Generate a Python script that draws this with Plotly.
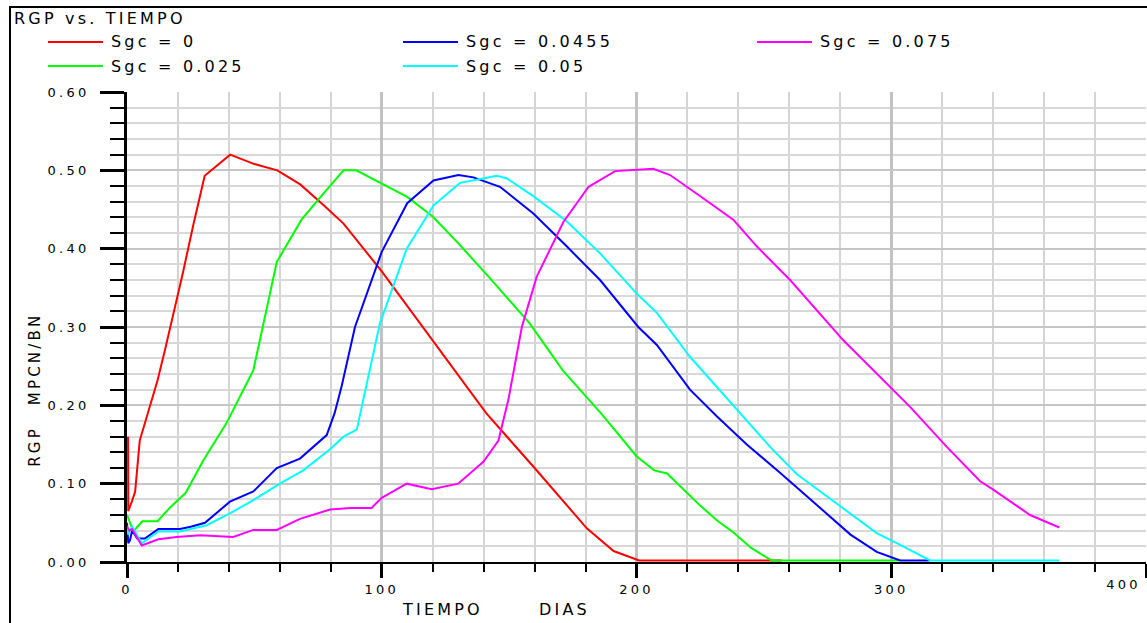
import plotly.graph_objects as go

# ---------------- data ----------------
title_text = "RGP vs. TIEMPO"
x_title_words = ["TIEMPO", "DIAS"]
y_title_words = ["RGP", "MPCN/BN"]

series_names = ["Sgc = 0", "Sgc = 0.025", "Sgc = 0.0455", "Sgc = 0.05", "Sgc = 0.075"]
series_colors = ["#ff0000", "#00ff00", "#0000ff", "#00ffff", "#ff00ff"]

t_sgc_0 = [0.4, 0.5, 2, 3.2, 5, 6.5, 9, 12, 15, 18, 22, 26, 30.5, 40.5, 50, 59, 68, 77,
           85, 100, 115, 130, 141, 160, 180.5, 191, 201, 257]
rgp_sgc_0 = [0.16, 0.065, 0.078, 0.09, 0.155, 0.172, 0.2, 0.232, 0.272, 0.313, 0.37, 0.43,
             0.493, 0.52, 0.508, 0.5, 0.482, 0.456, 0.432, 0.371, 0.305, 0.24, 0.19, 0.12,
             0.043, 0.014, 0.002, 0.002]

t_sgc_0025 = [0, 2.5, 6, 12, 17, 23, 30, 39, 47.6, 49.6, 58.8, 68.5, 77, 85, 90, 100, 110,
              120, 130, 142, 158, 171, 186, 200, 207, 212, 225, 232, 238, 245, 253, 303.5]
rgp_sgc_0025 = [0.06, 0.039, 0.052, 0.052, 0.07, 0.088, 0.13, 0.177, 0.232, 0.245, 0.383,
                0.437, 0.47, 0.5, 0.5, 0.483, 0.466, 0.441, 0.407, 0.364, 0.305, 0.245, 0.19,
                0.135, 0.117, 0.113, 0.072, 0.052, 0.038, 0.018, 0.002, 0.002]

t_sgc_00455 = [0, 0.5, 1.2, 2, 3, 4, 7, 12.3, 20.8, 25, 30.6, 40.4, 49.6, 58.8, 67.9, 78.4,
               81.5, 84.3, 89.5, 91.5, 100, 110, 120.3, 130.1, 136, 146.4, 159.5, 172.6,
               185.7, 200.7, 208, 221, 231.5, 243.3, 256, 270, 284, 294.3, 303.5, 315]
rgp_sgc_00455 = [0.05, 0.024, 0.028, 0.04, 0.035, 0.03, 0.03, 0.042, 0.042, 0.045, 0.05,
                 0.077, 0.09, 0.12, 0.132, 0.162, 0.19, 0.225, 0.3, 0.318, 0.396, 0.458,
                 0.487, 0.494, 0.491, 0.479, 0.445, 0.403, 0.36, 0.3, 0.277, 0.22, 0.186,
                 0.15, 0.115, 0.075, 0.035, 0.013, 0.002, 0.002]

t_sgc_005 = [0, 0.5, 1, 2, 5.8, 12.3, 20.8, 31.3, 40.4, 49.6, 60, 69.2, 79.7, 85, 90.2, 99.3,
             109.8, 120.3, 130.7, 145.2, 149, 159.5, 172.6, 185.7, 200, 208, 221, 239.4, 253,
             263, 273, 284, 294.3, 303.5, 315.3, 366]
rgp_sgc_005 = [0.045, 0.035, 0.04, 0.045, 0.024, 0.039, 0.039, 0.047, 0.062, 0.079, 0.1,
               0.117, 0.144, 0.16, 0.169, 0.305, 0.4, 0.455, 0.484, 0.493, 0.49, 0.467, 0.435,
               0.394, 0.343, 0.318, 0.262, 0.194, 0.145, 0.112, 0.088, 0.062, 0.037, 0.022,
               0.002, 0.002]

t_sgc_0075 = [0, 1, 2, 5.8, 12.3, 19.5, 28.7, 41.7, 49.6, 58.8, 67.9, 79.7, 87.6, 96, 100,
              109.8, 119.6, 130, 139.9, 145.8, 149.7, 155, 160.8, 171.3, 181.2, 191.6, 206.6,
              213.2, 226.3, 238, 247.2, 260.3, 281.2, 297, 307.4, 321.8, 334.9, 340.2, 354.5,
              366]
rgp_sgc_0075 = [0.045, 0.04, 0.042, 0.021, 0.029, 0.032, 0.034, 0.032, 0.041, 0.041, 0.055,
                0.067, 0.069, 0.069, 0.082, 0.1, 0.093, 0.1, 0.128, 0.155, 0.207, 0.3, 0.364,
                0.434, 0.479, 0.499, 0.502, 0.494, 0.464, 0.437, 0.403, 0.36, 0.283, 0.232,
                0.198, 0.147, 0.103, 0.092, 0.06, 0.044]

series_t = [t_sgc_0, t_sgc_0025, t_sgc_00455, t_sgc_005, t_sgc_0075]
series_v = [rgp_sgc_0, rgp_sgc_0025, rgp_sgc_00455, rgp_sgc_005, rgp_sgc_0075]

x_tick_vals = [0, 100, 200, 300, 400]
x_tick_text = ["0", "100", "200", "300", ""]
x_last_label = "400"
y_tick_vals = [0.0, 0.1, 0.2, 0.3, 0.4, 0.5, 0.6]

# ---------------- layout geometry ----------------
W, H = 1147, 623
ML, MR, MT, MB = 127, 1, 92, 61
PW, PH = W - ML - MR, H - MT - MB


def px(x):
    return (x - ML) / PW


def py(y):
    return (H - MB - y) / PH


FONT = "DejaVu Sans"

fig = go.Figure()
for t, v, name, col in zip(series_t, series_v, series_names, series_colors):
    fig.add_trace(go.Scatter(x=t, y=v, mode="lines", name=name,
                             line=dict(color=col, width=2), showlegend=False,
                             hoverinfo="skip"))

shapes = []
annotations = []

# outer frame
shapes.append(dict(type="rect", xref="paper", yref="paper", x0=px(10), x1=px(1165),
                   y0=py(7), y1=py(650), line=dict(color="black", width=2),
                   fillcolor="rgba(0,0,0,0)", layer="above"))

# title
annotations.append(dict(text=title_text, xref="paper", yref="paper", x=px(12), y=py(18),
                        xanchor="left", yanchor="middle", align="left", showarrow=False,
                        font=dict(family=FONT, size=16, color="black")))

# manual legend (3 columns x 2 rows)
legend_pos = [(0, 0), (1, 0), (0, 1), (1, 1), (0, 2)]
col_x = [48, 403, 757]
row_y = [42, 66]
for (r, c), name, col in zip(legend_pos, series_names, series_colors):
    x0 = col_x[c]
    y0 = row_y[r]
    shapes.append(dict(type="line", xref="paper", yref="paper", x0=px(x0), x1=px(x0 + 55),
                       y0=py(y0), y1=py(y0), line=dict(color=col, width=2)))
    annotations.append(dict(text=name, xref="paper", yref="paper", x=px(x0 + 61), y=py(y0),
                            xanchor="left", yanchor="middle", align="left", showarrow=False,
                            font=dict(family=FONT, size=16, color="black")))

# x axis title words
annotations.append(dict(text=x_title_words[0], xref="paper", yref="paper", x=px(400),
                        y=py(609), xanchor="left", yanchor="middle", align="left",
                        showarrow=False, font=dict(family=FONT, size=16, color="black")))
annotations.append(dict(text=x_title_words[1], xref="paper", yref="paper", x=px(537),
                        y=py(609), xanchor="left", yanchor="middle", align="left",
                        showarrow=False, font=dict(family=FONT, size=16, color="black")))
# y axis title words (rotated)
annotations.append(dict(text=y_title_words[0], xref="paper", yref="paper", x=px(35),
                        y=py(447), xanchor="center", yanchor="middle", textangle=-90,
                        showarrow=False, font=dict(family=FONT, size=15, color="black")))
annotations.append(dict(text=y_title_words[1], xref="paper", yref="paper", x=px(35),
                        y=py(359), xanchor="center", yanchor="middle", textangle=-90,
                        showarrow=False, font=dict(family=FONT, size=15, color="black")))
# last x tick label shifted inside the frame
annotations.append(dict(text=x_last_label, xref="paper", yref="paper", x=px(1123),
                        y=py(584), xanchor="center", yanchor="middle", showarrow=False,
                        font=dict(family=FONT, size=13, color="black")))

fig.update_layout(
    width=W, height=H, autosize=False,
    margin=dict(l=ML, r=MR, t=MT, b=MB, pad=0),
    paper_bgcolor="white", plot_bgcolor="white",
    hovermode=False,
    shapes=shapes, annotations=annotations,
    xaxis=dict(range=[0, 400], tickmode="array", tickvals=x_tick_vals, ticktext=x_tick_text,
               showline=True, linecolor="black", linewidth=2,
               ticks="outside", ticklen=14, tickwidth=3, tickcolor="black",
               showgrid=True, gridcolor="#c2c2c2", gridwidth=2.5, zeroline=False,
               tickfont=dict(family=FONT, size=13, color="black"),
               minor=dict(tickmode="linear", tick0=0, dtick=20, ticks="outside", ticklen=8,
                          tickwidth=1.5, tickcolor="black", showgrid=True,
                          gridcolor="#d4d4d4", gridwidth=1.5),
               fixedrange=True),
    yaxis=dict(range=[0, 0.6], tickmode="array", tickvals=y_tick_vals, tickformat=".2f",
               showline=True, linecolor="black", linewidth=2.5,
               ticks="outside", ticklen=24, tickwidth=2.5, tickcolor="black",
               showgrid=True, gridcolor="#c6c6c6", gridwidth=2, zeroline=False,
               ticklabelstandoff=8,
               tickfont=dict(family=FONT, size=13, color="black"),
               minor=dict(tickmode="linear", tick0=0, dtick=0.02, ticks="outside", ticklen=14,
                          tickwidth=1.5, tickcolor="black", showgrid=True,
                          gridcolor="#d8d8d8", gridwidth=1.5),
               fixedrange=True),
)

post = """
document.body.style.margin = '0';
document.body.style.overflow = 'hidden';
var gd = document.getElementById('{plot_id}');
function widen(){
  gd.querySelectorAll('.xtick text, .ytick text').forEach(function(t){ t.style.letterSpacing = '3.3px'; });
  gd.querySelectorAll('.annotation-text').forEach(function(t){ t.style.letterSpacing = '3.2px'; });
}
widen();
if (gd.on) { gd.on('plotly_afterplot', widen); }
"""

fig.write_html("out.html", post_script=post, config={"displayModeBar": False})
